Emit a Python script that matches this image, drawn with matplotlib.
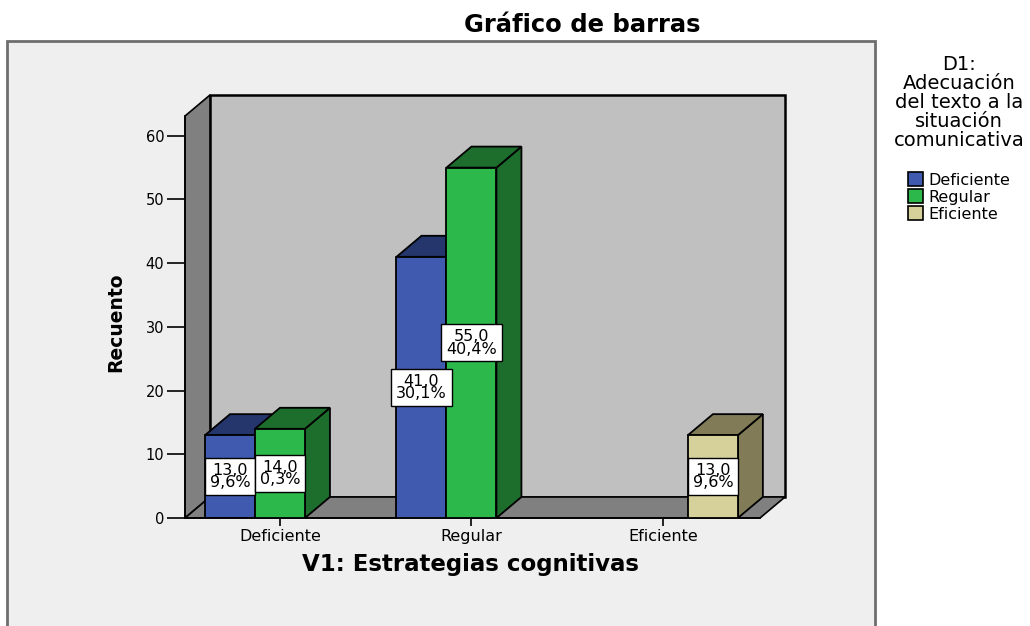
import matplotlib.pyplot as plt
from matplotlib.patches import Polygon, Rectangle, Patch

categorias = ['Deficiente', 'Regular', 'Eficiente']
series = ['Deficiente', 'Regular', 'Eficiente']
recuento_deficiente = [13, 41, 0]
recuento_regular = [14, 55, 0]
recuento_eficiente = [0, 0, 13]
pct_deficiente = ['9,6%', '30,1%', '']
pct_regular = ['0,3%', '40,4%', '']
pct_eficiente = ['', '', '9,6%']

valores = [recuento_deficiente, recuento_regular, recuento_eficiente]
pcts = [pct_deficiente, pct_regular, pct_eficiente]
frente = ['#3f5aae', '#2db84b', '#d6d09a']
oscuro = ['#24366b', '#1d6e2d', '#817c57']

plt.rcParams['font.family'] = ['DejaVu Sans']

fig = plt.figure(figsize=(10.3, 6.26), dpi=100)
fig.patch.set_facecolor('white')
# panel gris de fondo
fig.patches.append(Rectangle((7 / 1030, -0.05), 868 / 1030, 1.05 - 41 / 626,
                             transform=fig.transFigure, facecolor='#efefef',
                             edgecolor='#6e6e6e', lw=2, zorder=-1))

ax = fig.add_axes([185 / 1030, 108 / 626, 600 / 1030, 423 / 626])
ax.set_facecolor('none')
xl, xr = -0.496, 2.507
dx, dy = 0.1305, 3.3
htop = 63.1
ax.set_xlim(xl, xr + dx)
ax.set_ylim(0, htop + dy)

# paredes
ax.add_patch(Polygon([(xl + dx, dy), (xr + dx, dy), (xr + dx, htop + dy), (xl + dx, htop + dy)],
                     facecolor='#c0c0c0', edgecolor='black', lw=1.8, zorder=0.5, clip_on=False))
ax.add_patch(Polygon([(xl, 0), (xl + dx, dy), (xl + dx, htop + dy), (xl, htop)],
                     facecolor='#808080', edgecolor='black', lw=1.2, zorder=0.6, clip_on=False))
ax.add_patch(Polygon([(xl, 0), (xr, 0), (xr + dx, dy), (xl + dx, dy)],
                     facecolor='#808080', edgecolor='black', lw=1.2, zorder=0.6, clip_on=False))

w = 0.261
z = 2
for j in range(len(categorias)):
    for i in range(len(series)):
        v = valores[i][j]
        if v == 0:
            continue
        x0 = j + (i - 1) * w - w / 2
        x1 = x0 + w
        ax.add_patch(Polygon([(x1, 0), (x1 + dx, dy), (x1 + dx, v + dy), (x1, v)],
                             facecolor=oscuro[i], edgecolor='black', lw=1.3, zorder=z))
        ax.add_patch(Polygon([(x0, v), (x1, v), (x1 + dx, v + dy), (x0 + dx, v + dy)],
                             facecolor=oscuro[i], edgecolor='black', lw=1.3, zorder=z))
        ax.bar(x0 + w / 2, v, w, color=frente[i], edgecolor='black', lw=1.3, zorder=z + 0.1)
        z += 0.5

for j in range(len(categorias)):
    for i in range(len(series)):
        v = valores[i][j]
        if v == 0:
            continue
        etiqueta = f'{v:.1f}'.replace('.', ',') + '\n' + pcts[i][j]
        ax.text(j + (i - 1) * w, v / 2, etiqueta, ha='center', va='center',
                fontsize=11.5, linespacing=0.8, zorder=20,
                bbox=dict(boxstyle='square,pad=0.3', facecolor='white', edgecolor='black', lw=1))

for s in ['top', 'right']:
    ax.spines[s].set_visible(False)
ax.spines['left'].set_bounds(0, htop)
ax.spines['bottom'].set_bounds(xl, xr)
ax.spines['left'].set_linewidth(1.2)
ax.spines['bottom'].set_linewidth(1.2)
ax.set_yticks(range(0, 61, 10))
ax.set_xticks(range(len(categorias)))
ax.set_xticklabels(categorias)
ax.tick_params(axis='y', length=13, width=1.2, labelsize=10.5, pad=2)
ax.tick_params(axis='x', length=6, width=1.2, labelsize=11.5, pad=2)

fig.text(582 / 1030, 1 - 25 / 626, 'Gráfico de barras', ha='center', va='center',
         fontsize=17.5, fontweight='bold')
fig.text(471 / 1030, 1 - 565 / 626, 'V1: Estrategias cognitivas', ha='center', va='center',
         fontsize=16.5, fontweight='bold')
fig.text(116 / 1030, 1 - 322 / 626, 'Recuento', ha='center', va='center', rotation=90,
         fontsize=13.5, fontweight='bold')

handles = [Patch(facecolor=frente[i], edgecolor='black', lw=1.2) for i in range(3)]
leg = fig.legend(handles, series, title='D1:\nAdecuación\ndel texto a la\nsituación\ncomunicativa',
                 loc='upper center', bbox_to_anchor=(959 / 1030, 1 - 44 / 626), frameon=False,
                 fontsize=11.5, title_fontsize=14, handlelength=0.95, handleheight=0.95,
                 handletextpad=0.3, labelspacing=0.1, borderpad=0.2)
leg.get_title().set_multialignment('center')
leg.get_title().set_linespacing(1.0)
leg._legend_box.sep = 16

fig.savefig('out.png', dpi=100)
